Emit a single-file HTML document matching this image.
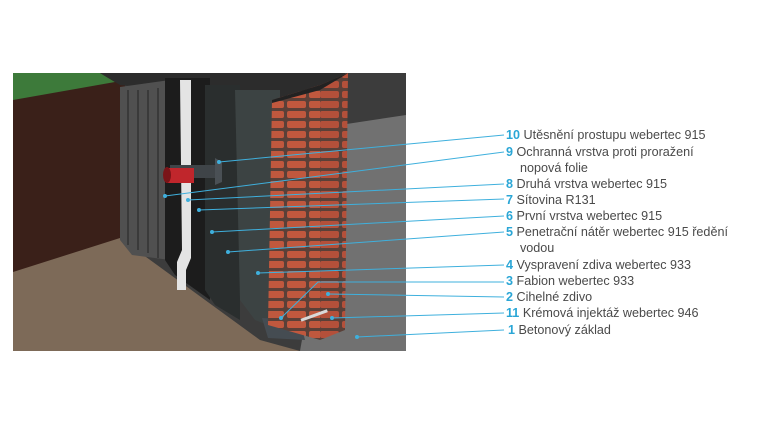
<!DOCTYPE html>
<html><head><meta charset="utf-8"><style>
html,body{margin:0;padding:0;background:#fff;width:768px;height:432px;overflow:hidden}
svg{position:absolute;left:0;top:0}
.n{font-family:"Liberation Sans",sans-serif;font-size:12.6px;font-weight:bold;fill:#2aa6d6}
.t{font-family:"Liberation Sans",sans-serif;font-size:12.6px;fill:#4a4a4a}
</style></head><body>
<svg width="768" height="432" viewBox="0 0 768 432">
<defs>
<pattern id="br" width="22" height="10" patternUnits="userSpaceOnUse">
<rect width="22" height="10" fill="#5a4038"/>
<rect x="1" y="1" width="19" height="7" rx="2" fill="#c0583e"/>
</pattern>
<pattern id="br2" width="22" height="10" patternUnits="userSpaceOnUse" x="11">
<rect width="22" height="10" fill="#5a4038"/>
<rect x="1" y="1" width="19" height="7" rx="2" fill="#b4503a"/>
</pattern>
<clipPath id="c"><rect x="13" y="73" width="393" height="278"/></clipPath>
</defs>
<g clip-path="url(#c)">
<rect x="13" y="73" width="393" height="278" fill="#3c3c3c"/>
<polygon points="340,125 406,115 406,351 300,351" fill="#717171"/>
<rect x="13" y="73" width="112" height="200" fill="#3a2019"/>
<polygon points="13,73 100,73 115,82 13,100" fill="#3d7a3a"/>
<polygon points="13,272 120,238 260,340 300,351 13,351" fill="#7d6a58"/>
<polygon points="100,73 345,73 345,110 120,85" fill="#2c2c2c"/>
<polygon points="120,87 170,80 170,260 132,255 120,240" fill="#505050"/>
<g stroke="#3a3a3a" stroke-width="2"><line x1="128" y1="90" x2="128" y2="245"/><line x1="138" y1="90" x2="138" y2="250"/><line x1="148" y1="90" x2="148" y2="253"/><line x1="158" y1="88" x2="158" y2="258"/></g>
<polygon points="165,78 210,78 210,300 175,275 165,260" fill="#1c1c1c"/>
<polygon points="205,85 240,85 240,320 215,305 205,290" fill="#2a2e2e"/>
<polygon points="235,90 280,90 280,330 255,320 240,300" fill="#3c4343"/>
<polygon points="180,80 191,80 191,258 186,270 186,290 177,290 177,262 182,250" fill="#e4e4e4"/>
<rect x="170" y="165" width="45" height="13" fill="#3f4448"/>
<path d="M215,158 L222,162 L222,182 L215,185Z" fill="#4a5055"/>
<rect x="166" y="168" width="28" height="15" fill="#c0262c"/>
<ellipse cx="167" cy="175" rx="4" ry="8" fill="#7a1418"/>
<polygon points="262,318 300,320 305,340 268,338" fill="#454c52"/>
<polygon points="272,100 320,85 320,340 268,325" fill="url(#br)"/>
<polygon points="320,85 348,73 345,330 320,340" fill="url(#br2)"/>
<polygon points="272,100 320,85 348,73 345,75 320,90 272,103" fill="#222"/>
<rect x="300" y="314" width="28" height="3" fill="#d8d8d8" transform="rotate(-20 314 315)"/>
</g>
<g stroke="#3fb0dd" stroke-width="1" fill="#3fb0dd">
<polyline fill="none" points="219,162 504,135"/><circle cx="219" cy="162" r="1.5"/>
<polyline fill="none" points="165,196 504,152"/><circle cx="165" cy="196" r="1.5"/>
<polyline fill="none" points="188,200 504,184"/><circle cx="188" cy="200" r="1.5"/>
<polyline fill="none" points="199,210 504,199"/><circle cx="199" cy="210" r="1.5"/>
<polyline fill="none" points="212,232 504,216"/><circle cx="212" cy="232" r="1.5"/>
<polyline fill="none" points="228,252 504,232"/><circle cx="228" cy="252" r="1.5"/>
<polyline fill="none" points="258,273 504,265"/><circle cx="258" cy="273" r="1.5"/>
<polyline fill="none" points="281,318 318,282 504,282"/><circle cx="281" cy="318" r="1.5"/>
<polyline fill="none" points="328,294 504,297"/><circle cx="328" cy="294" r="1.5"/>
<polyline fill="none" points="332,318 504,313"/><circle cx="332" cy="318" r="1.5"/>
<polyline fill="none" points="357,337 504,330"/><circle cx="357" cy="337" r="1.5"/>
</g>
<text x="506" y="139"><tspan class="n">10</tspan><tspan class="t"> Utěsnění prostupu webertec 915</tspan></text>
<text x="506" y="156"><tspan class="n">9</tspan><tspan class="t"> Ochranná vrstva proti proražení</tspan></text>
<text x="520" y="172" class="t">nopová folie</text>
<text x="506" y="188"><tspan class="n">8</tspan><tspan class="t"> Druhá vrstva webertec 915</tspan></text>
<text x="506" y="204"><tspan class="n">7</tspan><tspan class="t"> Sítovina R131</tspan></text>
<text x="506" y="220"><tspan class="n">6</tspan><tspan class="t"> První vrstva webertec 915</tspan></text>
<text x="506" y="236"><tspan class="n">5</tspan><tspan class="t"> Penetrační nátěr webertec 915 ředění</tspan></text>
<text x="520" y="252" class="t">vodou</text>
<text x="506" y="269"><tspan class="n">4</tspan><tspan class="t"> Vyspravení zdiva webertec 933</tspan></text>
<text x="506" y="285"><tspan class="n">3</tspan><tspan class="t"> Fabion webertec 933</tspan></text>
<text x="506" y="301"><tspan class="n">2</tspan><tspan class="t"> Cihelné zdivo</tspan></text>
<text x="506" y="317"><tspan class="n">11</tspan><tspan class="t"> Krémová injektáž webertec 946</tspan></text>
<text x="508" y="334"><tspan class="n">1</tspan><tspan class="t">  Betonový základ</tspan></text>
</svg>
</body></html>
